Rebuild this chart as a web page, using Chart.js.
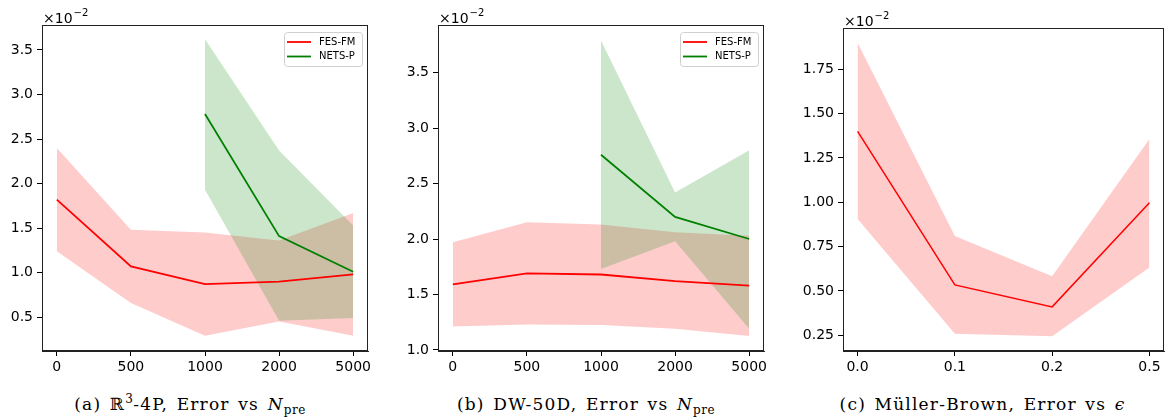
<!doctype html>
<html lang="en">
  <head>
    <meta charset="UTF-8" />
    <title>Error vs N_pre / epsilon</title>
    <script src="https://cdn.jsdelivr.net/npm/chart.js"></script>
    <style>
      body,
      html {
        margin: 0;
        padding: 0;
        background: #fff;
        width: 1166px;
        height: 419px;
        overflow: hidden;
      }
      canvas {
        position: absolute;
        top: 0;
      }
      .caption {
        position: absolute;
        top: 396px;
        text-align: center;
        font-family: "DejaVu Serif", serif;
        font-size: 17px;
        line-height: 16px;
        letter-spacing: 1.2px;
        word-spacing: 2px;
        color: #000;
        white-space: nowrap;
      }
      .caption sub,
      .caption sup {
        line-height: 0;
        font-size: 12px;
        letter-spacing: 0.5px;
      }
      .caption sub {
        vertical-align: -4px;
      }
      .caption sup {
        vertical-align: 7px;
      }
    </style>
  </head>
  <body>
    <canvas id="chartA" width="380" height="375" style="left: 0px"></canvas>
    <canvas id="chartB" width="385" height="375" style="left: 390px"></canvas>
    <canvas id="chartC" width="386" height="375" style="left: 780px"></canvas>

    <div class="caption" style="left: 0px; width: 380px">
      (a) ℝ<sup>3</sup>-4P, Error vs <i>N</i><sub>pre</sub>
    </div>
    <div class="caption" style="left: 391px; width: 390px">
      (b) DW-50D, Error vs <i>N</i><sub>pre</sub>
    </div>
    <div class="caption" style="left: 812px; width: 341px">
      (c) Müller-Brown, Error vs <i>ϵ</i>
    </div>

    <script>
      // categories
      const nPreLabels = ["0", "500", "1000", "2000", "5000"];
      const epsLabels = ["0.0", "0.1", "0.2", "0.5"];

      // y tick labels (values are in units of 1e-2)
      const ticksA = [0.5, 1.0, 1.5, 2.0, 2.5, 3.0, 3.5];
      const ticksB = [1.0, 1.5, 2.0, 2.5, 3.0, 3.5];
      const ticksC = [0.25, 0.5, 0.75, 1.0, 1.25, 1.5, 1.75];

      // (a) R^3-4P
      const fesA = [1.82, 1.07, 0.87, 0.9, 0.98];
      const fesAHi = [2.4, 1.48, 1.45, 1.36, 1.67];
      const fesALo = [1.24, 0.66, 0.29, 0.45, 0.29];
      const netsA = [null, null, 2.78, 1.41, 1.01];
      const netsAHi = [null, null, 3.62, 2.37, 1.53];
      const netsALo = [null, null, 1.93, 0.46, 0.49];

      // (b) DW-50D
      const fesB = [1.59, 1.69, 1.68, 1.62, 1.58];
      const fesBHi = [1.97, 2.15, 2.13, 2.06, 2.03];
      const fesBLo = [1.21, 1.23, 1.225, 1.19, 1.125];
      const netsB = [null, null, 2.76, 2.2, 2.0];
      const netsBHi = [null, null, 3.79, 2.42, 2.8];
      const netsBLo = [null, null, 1.73, 1.98, 1.19];

      // (c) Muller-Brown
      const fesC = [1.4, 0.534, 0.41, 0.997];
      const fesCHi = [1.9, 0.81, 0.582, 1.357];
      const fesCLo = [0.905, 0.259, 0.244, 0.632];

      const RED = "#ff0000";
      const GREEN = "#008000";
      const RED_FILL = "rgba(255, 0, 0, 0.2)";
      const GREEN_FILL = "rgba(0, 128, 0, 0.2)";

      function pts(arr) {
        return arr.map((v, i) => ({ x: i, y: v }));
      }

      // frame, x10^-2 offset text and the legend box
      const decoPlugin = {
        id: "deco",
        afterDraw(chart, args, opts) {
          const ctx = chart.ctx;
          const a = chart.chartArea;
          ctx.save();
          ctx.strokeStyle = "#222";
          ctx.lineWidth = 1;
          ctx.strokeRect(
            Math.round(a.left) + 0.5,
            Math.round(a.top) + 0.5,
            Math.round(a.right - a.left) - 1,
            Math.round(a.bottom - a.top) - 1,
          );

          // offset text
          ctx.fillStyle = "#000";
          ctx.textBaseline = "alphabetic";
          ctx.textAlign = "left";
          ctx.font = "14px 'DejaVu Sans'";
          const x0 = a.left + 1;
          const y0 = a.top - 2.5;
          ctx.fillText("×10", x0, y0);
          const w = ctx.measureText("×10").width;
          ctx.font = "10px 'DejaVu Sans'";
          ctx.fillText("−2", x0 + w + 1, y0 - 6.5);

          // legend
          if (opts.legend) {
            const bw = 78,
              bh = 34;
            const bx = a.right - 6 - bw;
            const by = a.top + 7;
            ctx.beginPath();
            ctx.roundRect(bx + 0.5, by + 0.5, bw, bh, 3);
            ctx.fillStyle = "rgba(255,255,255,0.8)";
            ctx.fill();
            ctx.strokeStyle = "#d0d0d0";
            ctx.stroke();
            ctx.font = "10px 'DejaVu Sans'";
            ctx.textBaseline = "middle";
            opts.legend.forEach((item, i) => {
              const ly = by + 10 + i * 14.5;
              ctx.strokeStyle = item.color;
              ctx.lineWidth = 1.8;
              ctx.beginPath();
              ctx.moveTo(bx + 3, ly);
              ctx.lineTo(bx + 27, ly);
              ctx.stroke();
              ctx.fillStyle = "#000";
              ctx.fillText(item.label, bx + 35, ly);
            });
          }
          ctx.restore();
        },
      };

      function makeChart(id, cfg) {
        const n = cfg.labels.length;
        const margin = (n - 1) * 0.05;
        const datasets = [];
        cfg.bands.forEach((b) => {
          datasets.push({
            data: pts(b.hi),
            borderWidth: 0,
            pointRadius: 0,
            backgroundColor: b.fill,
            fill: "+1",
            order: b.order,
          });
          datasets.push({
            data: pts(b.lo),
            borderWidth: 0,
            pointRadius: 0,
            fill: false,
            order: b.order,
          });
        });
        cfg.lines.forEach((l) => {
          datasets.push({
            data: pts(l.data),
            borderColor: l.color,
            borderWidth: cfg.lineWidth,
            pointRadius: 0,
            fill: false,
            order: l.order,
          });
        });

        return new Chart(document.getElementById(id), {
          type: "line",
          data: { datasets: datasets },
          plugins: [decoPlugin],
          options: {
            responsive: false,
            animation: false,
            layout: {
              padding: { top: cfg.padTop, right: cfg.padRight, left: 0, bottom: 0 },
            },
            plugins: {
              legend: { display: false },
              tooltip: { enabled: false },
              deco: { legend: cfg.legend },
            },
            scales: {
              x: {
                type: "linear",
                min: -margin,
                max: n - 1 + margin,
                afterFit: (s) => {
                  s.height = 24;
                },
                afterBuildTicks: (s) => {
                  s.ticks = cfg.labels.map((_, i) => ({ value: i }));
                },
                ticks: {
                  callback: (v) => cfg.labels[v],
                  color: "#000",
                  padding: 3,
                  maxRotation: 0,
                  font: { family: "DejaVu Sans", size: 14 },
                },
                grid: {
                  drawOnChartArea: false,
                  drawTicks: true,
                  tickLength: 5,
                  color: "#000",
                },
                border: { display: true, color: "#222" },
              },
              y: {
                min: cfg.yMin,
                max: cfg.yMax,
                afterFit: (s) => {
                  s.width = cfg.yWidth;
                },
                afterBuildTicks: (s) => {
                  s.ticks = cfg.yTicks.map((v) => ({ value: v }));
                },
                ticks: {
                  callback: (v) => v.toFixed(cfg.decimals),
                  color: "#000",
                  padding: 4,
                  font: { family: "DejaVu Sans", size: 14 },
                },
                grid: {
                  drawOnChartArea: false,
                  drawTicks: true,
                  tickLength: 5,
                  color: "#000",
                },
                border: { display: true, color: "#222" },
              },
            },
          },
        });
      }

      const legendItems = [
        { label: "FES-FM", color: RED },
        { label: "NETS-P", color: GREEN },
      ];

      makeChart("chartA", {
        labels: nPreLabels,
        yMin: 0.12,
        yMax: 3.78,
        yTicks: ticksA,
        decimals: 1,
        yWidth: 42,
        padTop: 25,
        padRight: 12,
        lineWidth: 1.8,
        legend: legendItems,
        bands: [
          { hi: fesAHi, lo: fesALo, fill: RED_FILL, order: 5 },
          { hi: netsAHi, lo: netsALo, fill: GREEN_FILL, order: 4 },
        ],
        lines: [
          { data: fesA, color: RED, order: 1 },
          { data: netsA, color: GREEN, order: 0 },
        ],
      });

      makeChart("chartB", {
        labels: nPreLabels,
        yMin: 0.99,
        yMax: 3.93,
        yTicks: ticksB,
        decimals: 1,
        yWidth: 48,
        padTop: 25,
        padRight: 11,
        lineWidth: 1.8,
        legend: legendItems,
        bands: [
          { hi: fesBHi, lo: fesBLo, fill: RED_FILL, order: 5 },
          { hi: netsBHi, lo: netsBLo, fill: GREEN_FILL, order: 4 },
        ],
        lines: [
          { data: fesB, color: RED, order: 1 },
          { data: netsB, color: GREEN, order: 0 },
        ],
      });

      makeChart("chartC", {
        labels: epsLabels,
        yMin: 0.161,
        yMax: 1.983,
        yTicks: ticksC,
        decimals: 2,
        yWidth: 63,
        padTop: 28,
        padRight: 2,
        lineWidth: 1.5,
        legend: null,
        bands: [{ hi: fesCHi, lo: fesCLo, fill: RED_FILL, order: 5 }],
        lines: [{ data: fesC, color: RED, order: 1 }],
      });
    </script>
  </body>
</html>
